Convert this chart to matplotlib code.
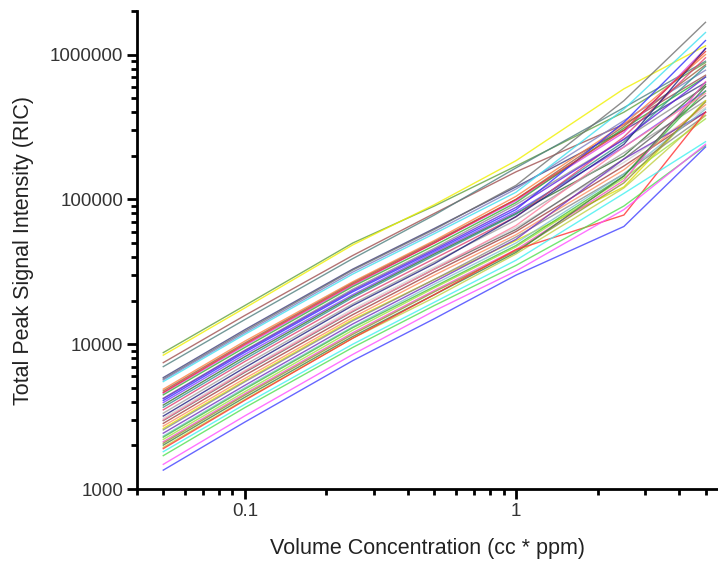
import matplotlib
matplotlib.use("Agg")
import matplotlib.pyplot as plt
from matplotlib.ticker import LogLocator, FuncFormatter, NullFormatter

# Volume concentration (cc * ppm)
x_values = [0.05, 0.1, 0.25, 0.5, 1, 2.5, 5]

# Total peak signal intensity per compound (RIC)
s01 = [8750, 18500, 50000, 90000, 170000, 400000, 880000]
s02 = [8400, 17800, 48500, 92000, 185000, 580000, 1150000]
s03 = [7460, 15800, 41000, 80000, 155000, 330000, 720000]
s04 = [7000, 14800, 39000, 78000, 165000, 430000, 900000]
s05 = [5880, 12600, 33000, 63000, 122000, 300000, 640000]
s06 = [5750, 12300, 32500, 62000, 125000, 480000, 1670000]
s07 = [5660, 12000, 31500, 60000, 118000, 350000, 780000]
s08 = [5520, 11700, 30500, 58000, 112000, 420000, 1420000]
s09 = [4890, 10500, 27000, 52000, 105000, 330000, 1000000]
s10 = [4760, 10200, 26500, 51000, 100000, 320000, 850000]
s11 = [4590, 9800, 25500, 50000, 98000, 290000, 1100000]
s12 = [4470, 9500, 25000, 48000, 95000, 310000, 700000]
s13 = [4240, 9100, 24000, 46000, 92000, 260000, 600000]
s14 = [4080, 8800, 23000, 44000, 85000, 340000, 1250000]
s15 = [3950, 8500, 22000, 43000, 82000, 230000, 560000]
s16 = [3800, 8200, 21500, 42000, 80000, 200000, 620000]
s17 = [3670, 7900, 21000, 41000, 79000, 250000, 830000]
s18 = [3520, 7600, 20000, 39000, 76000, 270000, 950000]
s19 = [3340, 7200, 19000, 37000, 72000, 210000, 480000]
s20 = [3190, 6900, 18500, 36000, 76000, 240000, 1100000]
s21 = [3080, 6600, 17500, 34000, 64000, 180000, 430000]
s22 = [2970, 6400, 16800, 33000, 62000, 190000, 520000]
s23 = [2840, 6100, 16000, 31500, 60000, 170000, 400000]
s24 = [2720, 5800, 15300, 30000, 57000, 160000, 450000]
s25 = [2620, 5600, 14800, 28000, 52000, 122000, 480000]
s26 = [2560, 5500, 14500, 28000, 55000, 150000, 380000]
s27 = [2430, 5200, 13800, 27000, 53000, 190000, 400000]
s28 = [2320, 5000, 13200, 26000, 50000, 150000, 420000]
s29 = [2280, 4900, 13000, 25000, 48000, 145000, 560000]
s30 = [2200, 4700, 12500, 24500, 47000, 140000, 360000]
s31 = [2120, 4550, 12000, 23500, 45000, 135000, 650000]
s32 = [2070, 4450, 11700, 23000, 44000, 130000, 470000]
s33 = [2010, 4300, 11300, 22000, 43000, 145000, 600000]
s34 = [1940, 4150, 11000, 21000, 42000, 120000, 380000]
s35 = [1900, 4100, 11000, 22000, 45000, 78000, 400000]
s36 = [1810, 3850, 10000, 19500, 38000, 110000, 250000]
s37 = [1700, 3650, 9500, 18500, 35000, 90000, 235000]
s38 = [1480, 3200, 8500, 17000, 32000, 85000, 240000]
s39 = [1350, 2900, 7700, 15000, 30000, 65000, 230000]
s40 = [3000, 6500, 17000, 33000, 66000, 230000, 540000]
s41 = [4200, 9000, 23500, 45000, 88000, 260000, 700000]
s42 = [4650, 10000, 26000, 50000, 100000, 300000, 1050000]

series = [s01, s02, s03, s04, s05, s06, s07, s08, s09, s10, s11, s12, s13, s14,
          s15, s16, s17, s18, s19, s20, s21, s22, s23, s24, s25, s26, s27, s28,
          s29, s30, s31, s32, s33, s34, s35, s36, s37, s38, s39, s40, s41, s42]

colors = ['#60a040', '#f0f000', '#a05050', '#508080', '#404080', '#707070',
          '#8080c0', '#40e0f0', '#ff8040', '#a06040', '#e040e0', '#30b030',
          '#909090', '#3030ff', '#8040ff', '#307030', '#309090', '#e04070',
          '#a0a0a0', '#202080', '#d0d0d0', '#606060', '#a04040', '#ff9060',
          '#e0e000', '#888888', '#7030c0', '#80c0d0', '#40c040', '#a0e040',
          '#f050c0', '#909030', '#408040', '#c0d040', '#ff3030', '#40f0f0',
          '#50e050', '#ff50ff', '#4040ff', '#ff80a0', '#6020e0', '#e03030']

plt.rcParams['font.family'] = ['Liberation Sans', 'DejaVu Sans']

fig = plt.figure(figsize=(7.18, 5.63), dpi=100)
ax = fig.add_axes([0.1908, 0.1314, 0.8092, 0.8491])

for vals, c in zip(series, colors):
    ax.plot(x_values, vals, color=c, lw=1.0, alpha=0.8)

ax.set_xscale('log')
ax.set_yscale('log')
ax.set_xlim(0.04, 5.56)
ax.set_ylim(1000, 2.0e6)

ax.spines['top'].set_visible(False)
ax.spines['right'].set_visible(False)
for s in ('left', 'bottom'):
    ax.spines[s].set_linewidth(2.0)

ax.xaxis.set_major_locator(LogLocator(base=10))
ax.xaxis.set_minor_locator(LogLocator(base=10, subs=range(2, 10)))
ax.yaxis.set_major_locator(LogLocator(base=10))
ax.yaxis.set_minor_locator(LogLocator(base=10, subs=range(2, 10)))
ax.xaxis.set_major_formatter(FuncFormatter(lambda v, p: f'{v:g}'))
ax.yaxis.set_major_formatter(FuncFormatter(lambda v, p: f'{v:.0f}'))
ax.xaxis.set_minor_formatter(NullFormatter())
ax.yaxis.set_minor_formatter(NullFormatter())

ax.tick_params(which='major', direction='out', length=7, width=2,
               labelsize=13.5, colors='black', pad=3)
ax.tick_params(which='minor', direction='out', length=4, width=2)
for lab in ax.get_xticklabels() + ax.get_yticklabels():
    lab.set_color('#333333')

ax.set_xlabel('Volume Concentration (cc * ppm)', fontsize=15.5, color='#222222', labelpad=13)
ax.set_ylabel('Total Peak Signal Intensity (RIC)', fontsize=15.5, color='#222222', labelpad=11)

fig.savefig('out.png', dpi=100)
